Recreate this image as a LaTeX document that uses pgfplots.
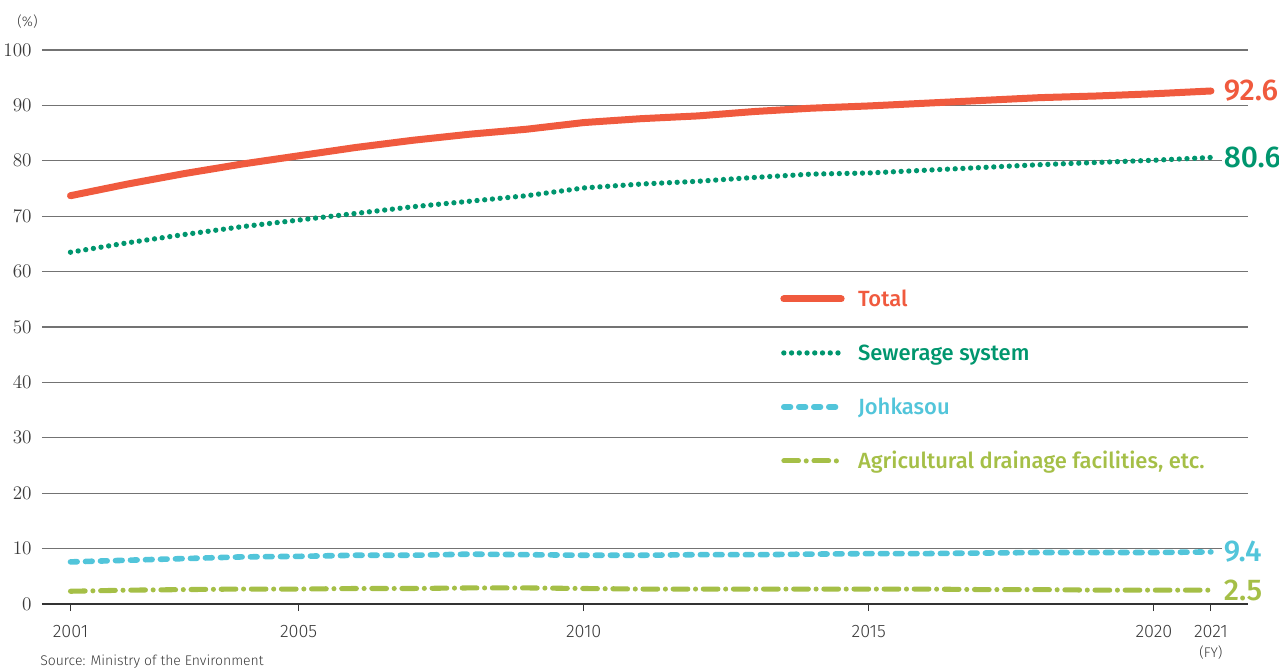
\documentclass[border=0pt]{standalone}
\usepackage{fontspec}
\setmainfont{Fira Sans}[BoldFont={Fira Sans Medium}]
\newfontfamily\lightfont{Fira Sans Light}
\usepackage{pgfplots}
\pgfplotsset{compat=1.18}

\definecolor{totalc}{HTML}{F05A3E}
\definecolor{sewerc}{HTML}{00966E}
\definecolor{johkc}{HTML}{52C5DA}
\definecolor{agric}{HTML}{A5BF47}
\definecolor{tickc}{HTML}{3A3A3A}

\newcommand{\valfont}{\bfseries\fontsize{22.5}{26}\selectfont}
\newcommand{\tickfont}{\lightfont\fontsize{13.5}{16}\selectfont}
\newcommand{\smallfont}{\lightfont\fontsize{10.5}{12}\selectfont}

\begin{document}
\begin{tikzpicture}
\begin{axis}[
  at={(0pt,0pt)}, anchor=south west,
  scale only axis, width=904.5pt, height=415.5pt,
  xmin=2000.5, xmax=2021.65, ymin=0, ymax=100,
  clip=false,
  axis line style={draw=none},
  ymajorgrids, grid style={draw=black!55, line width=0.9pt},
  ytick={0,10,...,100},
  extra y ticks={0}, extra y tick labels={},
  extra y tick style={grid style={draw=black!80, line width=0.9pt}},
  xtick={2001,2005,2010,2015,2020,2021},
  xticklabels={2001,2005,2010,2015,2020,{2021\\[-1pt]{\smallfont (FY)}}},
  xtick pos=left, tick align=outside,
  major tick length=5.25pt,
  ytick style={draw=none},
  xtick style={draw=black!80, line width=0.75pt},
  xticklabel style={align=center, anchor=north, font=\tickfont, text=tickc, yshift=-7pt},
  yticklabel style={anchor=east, font=\tickfont, text=tickc, xshift=1pt},
  legend image code/.code={\draw[#1] (0pt,0pt) -- (43pt,0pt);},
  legend cell align=left,
  legend style={at={(0.612,0.565)}, anchor=north west, draw=none, fill=none,
    inner sep=0pt, row sep=29pt, column sep=10pt,
    font=\bfseries\fontsize{16.5}{19}\selectfont,
    nodes={inner sep=0pt, text height=11.5pt, text depth=0pt}},
]

% Total
\addplot[totalc, line width=5.25pt, line cap=round, line join=round] coordinates {
  (2001,73.7) (2002,75.8) (2003,77.7) (2004,79.4) (2005,80.9) (2006,82.4) (2007,83.7)
  (2008,84.8) (2009,85.7) (2010,86.9) (2011,87.6) (2012,88.1) (2013,88.9) (2014,89.5)
  (2015,89.9) (2016,90.4) (2017,90.9) (2018,91.4) (2019,91.7) (2020,92.1) (2021,92.6)};
\addlegendentry{\textcolor{totalc}{Total}}

% Sewerage system
\addplot[sewerc, line width=4pt, line cap=round, dash pattern=on 0pt off 5.8pt] coordinates {
  (2001,63.5) (2002,65.2) (2003,66.7) (2004,68.1) (2005,69.3) (2006,70.5) (2007,71.7)
  (2008,72.7) (2009,73.7) (2010,75.1) (2011,75.8) (2012,76.3) (2013,77.0) (2014,77.6)
  (2015,77.8) (2016,78.3) (2017,78.8) (2018,79.3) (2019,79.7) (2020,80.1) (2021,80.6)};
\addlegendentry{\textcolor{sewerc}{Sewerage system}}

% Johkasou
\addplot[johkc, line width=4.2pt, line cap=round, dash pattern=on 5pt off 6.25pt] coordinates {
  (2001,7.6) (2002,7.9) (2003,8.2) (2004,8.5) (2005,8.6) (2006,8.8) (2007,8.8)
  (2008,9.0) (2009,8.9) (2010,8.8) (2011,8.8) (2012,8.9) (2013,8.9) (2014,9.0)
  (2015,9.1) (2016,9.1) (2017,9.2) (2018,9.3) (2019,9.3) (2020,9.3) (2021,9.4)};
\addlegendentry{\textcolor{johkc}{Johkasou}}

% Agricultural drainage facilities, etc.
\addplot[agric, line width=3.8pt, line cap=round, dash pattern=on 11pt off 5.8pt on 0pt off 5.8pt] coordinates {
  (2001,2.3) (2002,2.5) (2003,2.6) (2004,2.7) (2005,2.7) (2006,2.8) (2007,2.8)
  (2008,2.9) (2009,2.9) (2010,2.8) (2011,2.7) (2012,2.7) (2013,2.7) (2014,2.7)
  (2015,2.7) (2016,2.7) (2017,2.6) (2018,2.6) (2019,2.5) (2020,2.5) (2021,2.5)};
\addlegendentry{\textcolor{agric}{Agricultural drainage facilities, etc.}}

% end-of-series values
\node[anchor=west, text=totalc, font=\valfont, fill=white, inner sep=1.5pt, xshift=8pt] at (axis cs:2021,92.6) {92.6};
\node[anchor=west, text=sewerc, font=\valfont, fill=white, inner sep=1.5pt, xshift=8pt] at (axis cs:2021,80.6) {80.6};
\node[anchor=west, text=johkc, font=\valfont, fill=white, inner sep=1.5pt, xshift=8pt] at (axis cs:2021,9.4) {9.4};
\node[anchor=west, text=agric, font=\valfont, fill=white, inner sep=1.5pt, xshift=8pt] at (axis cs:2021,2.5) {2.5};
\end{axis}

\node[text=tickc, font=\smallfont, inner sep=0pt] at (-10.9pt,436.5pt) {(\%)};
\node[anchor=north west, text=tickc, font=\smallfont, inner sep=0pt] at (-1.5pt,-38pt) {Source: Ministry of the Environment};

\pgfresetboundingbox
\path[use as bounding box] (-31.5pt,-48pt) rectangle (927.75pt,453pt);
\end{tikzpicture}
\end{document}
